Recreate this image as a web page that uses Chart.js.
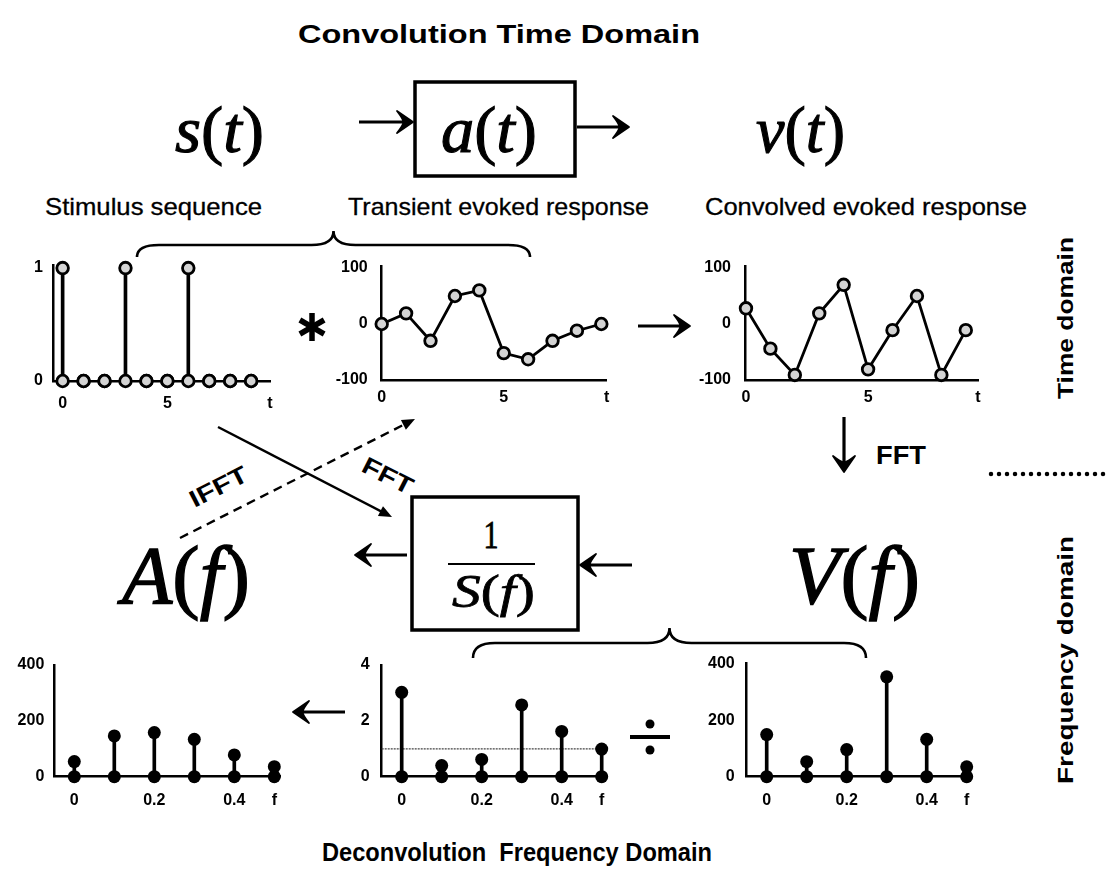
<!DOCTYPE html>
<html>
<head>
<meta charset="utf-8">
<title>Convolution / Deconvolution</title>
<script src="https://cdn.jsdelivr.net/npm/chart.js@4.4.1/dist/chart.umd.min.js"></script>
<style>
  html, body { margin: 0; padding: 0; background: #fff; }
  #wrap { position: relative; width: 1110px; height: 886px; overflow: hidden; background: #fff; }
  #wrap canvas { position: absolute; }
  #ann { position: absolute; left: 0; top: 0; }
</style>
</head>
<body>
<div id="wrap">
  <svg id="ann" width="1110" height="886" xmlns="http://www.w3.org/2000/svg"></svg>
  <canvas id="c-stim"></canvas>
  <canvas id="c-trans"></canvas>
  <canvas id="c-conv"></canvas>
  <canvas id="c-A"></canvas>
  <canvas id="c-S"></canvas>
  <canvas id="c-V"></canvas>
</div>
<script>
// ===== DATA ===== //
const stimTimes = [0, 1, 2, 3, 4, 5, 6, 7, 8, 9];
const stimulus = [1, 0, 0, 1, 0, 0, 1, 0, 0, 0];
const transient = [0, 19, -30, 50, 60, -52, -63, -30, -12, 0];
const convolved = [28, -44, -91, 19, 70, -81, -11, 50, -91, -11];

const freqs = [0, 0.1, 0.2, 0.3, 0.4, 0.5];
const ampA = [54, 146, 158, 134, 78, 36];
const ampS = [3.02, 0.40, 0.62, 2.57, 1.62, 0.99];
const ampV = [149, 53, 96, 353, 132, 35];
const unityLevel = 1;

const timeTickLabels = ['0', '5', 't'];
const freqTickValues = [0, 0.2, 0.4, 0.5];
const freqTickLabels = ['0', '0.2', '0.4', 'f'];
const stimYTicks = [0, 1];
const respYTicks = [-100, 0, 100];
const ampYTicks = [0, 200, 400];
const sYTicks = [0, 2, 4];

// ===== CHART SETUP ===== //
const SANS = '"Liberation Sans", Arial, sans-serif';
const SERIF = '"Liberation Serif", "Times New Roman", serif';
const X_AXIS_H = 30;
Chart.defaults.font.family = SANS;
Chart.defaults.font.size = 16;
Chart.defaults.font.weight = 'bold';
Chart.defaults.color = '#000';

function pairs(xs, ys) {
  return xs.map((x, i) => ({ x: x, y: ys[i] }));
}

const openPoint = {
  pointRadius: 5.8, pointBackgroundColor: '#d4d4d4',
  pointBorderColor: '#000', pointBorderWidth: 2.8
};
const solidPoint = {
  pointRadius: 6.5, pointBackgroundColor: '#000',
  pointBorderColor: '#000', pointBorderWidth: 0
};

function makeChart(id, g, type, datasets) {
  const cv = document.getElementById(id);
  cv.width = g.box.width;
  cv.height = g.box.height;
  cv.style.left = g.box.left + 'px';
  cv.style.top = g.box.top + 'px';
  cv.style.width = g.box.width + 'px';
  cv.style.height = g.box.height + 'px';
  const axisCommon = {
    type: 'linear', offset: false,
    grid: { display: false, drawTicks: false },
    border: { display: true, color: '#000', width: 2.5 }
  };
  return new Chart(cv, {
    type: type,
    data: { datasets: datasets },
    options: {
      responsive: false, animation: false, devicePixelRatio: 1,
      layout: {
        autoPadding: false,
        padding: {
          left: 0,
          top: g.area.y0 - g.box.top,
          right: g.box.left + g.box.width - g.area.x1,
          bottom: g.box.top + g.box.height - g.area.y1 - X_AXIS_H
        }
      },
      plugins: { legend: { display: false }, tooltip: { enabled: false } },
      scales: {
        x: Object.assign({}, axisCommon, {
          min: g.xMin, max: g.xMax,
          afterBuildTicks: a => { a.ticks = g.xTicks.map(v => ({ value: v })); },
          afterFit: a => { a.height = X_AXIS_H; },
          ticks: { autoSkip: false, maxRotation: 0, padding: g.xPad,
                   callback: (v, i) => g.xLabels[i] }
        }),
        y: Object.assign({}, axisCommon, {
          min: g.yMin, max: g.yMax,
          afterBuildTicks: a => { a.ticks = g.yTicks.map(v => ({ value: v })); },
          afterFit: a => { a.width = g.area.x0 - g.box.left; },
          ticks: { autoSkip: false, padding: g.yPad, callback: v => String(v) }
        })
      }
    }
  });
}

function stemSets(xs, ys, point, baseLine) {
  const sets = [
    { type: 'bar', data: pairs(xs, ys), backgroundColor: '#000', barThickness: 3,
      order: 3, clip: false },
    Object.assign({ type: 'line', data: pairs(xs, xs.map(() => 0)), showLine: false,
      order: 2, clip: false }, point),
    Object.assign({ type: 'line', data: pairs(xs, ys), showLine: false,
      order: 1, clip: false }, point)
  ];
  if (baseLine) sets.push(baseLine);
  return sets;
}

function lineSet(xs, ys) {
  return [Object.assign({ type: 'line', data: pairs(xs, ys), borderColor: '#000',
    borderWidth: 2.8, tension: 0, clip: false }, openPoint)];
}

// time domain
makeChart('c-stim', {
  box: { left: 0, top: 240, width: 300, height: 190 },
  area: { x0: 53, x1: 270, y0: 265, y1: 381 },
  xMin: -0.46, xMax: 9.9, yMin: 0, yMax: 1.027,
  xTicks: [0, 5, 9.9], xLabels: timeTickLabels, yTicks: stimYTicks,
  xPad: 13, yPad: 10
}, 'bar', stemSets(stimTimes, stimulus, openPoint));

makeChart('c-trans', {
  box: { left: 320, top: 240, width: 310, height: 190 },
  area: { x0: 381.7, x1: 606.7, y0: 266.7, y1: 380 },
  xMin: 0, xMax: 9.22, yMin: -100, yMax: 102.3,
  xTicks: [0, 5, 9.22], xLabels: timeTickLabels, yTicks: respYTicks,
  xPad: 8, yPad: 14
}, 'line', lineSet(stimTimes, transient));

makeChart('c-conv', {
  box: { left: 680, top: 240, width: 320, height: 190 },
  area: { x0: 745, x1: 978, y0: 266.7, y1: 380 },
  xMin: -0.04, xMax: 9.5, yMin: -100, yMax: 102.3,
  xTicks: [0, 5, 9.5], xLabels: timeTickLabels, yTicks: respYTicks,
  xPad: 8, yPad: 14
}, 'line', lineSet(stimTimes, convolved));

// frequency domain
makeChart('c-A', {
  box: { left: 0, top: 640, width: 300, height: 180 },
  area: { x0: 54.3, x1: 280.3, y0: 665, y1: 776.7 },
  xMin: -0.05, xMax: 0.515, yMin: 0, yMax: 400,
  xTicks: freqTickValues, xLabels: freqTickLabels, yTicks: ampYTicks,
  xPad: 14, yPad: 10
}, 'bar', stemSets(freqs, ampA, solidPoint));

makeChart('c-S', {
  box: { left: 320, top: 640, width: 310, height: 180 },
  area: { x0: 381.7, x1: 607.7, y0: 665, y1: 776.7 },
  xMin: -0.05, xMax: 0.515, yMin: 0, yMax: 4,
  xTicks: freqTickValues, xLabels: freqTickLabels, yTicks: sYTicks,
  xPad: 14, yPad: 12
}, 'bar', stemSets(freqs, ampS, solidPoint, {
  type: 'line', data: [{ x: -0.05, y: unityLevel }, { x: 0.515, y: unityLevel }],
  borderColor: '#444', borderWidth: 1.3, borderDash: [2, 1], pointRadius: 0,
  order: 4, clip: false
}));

makeChart('c-V', {
  box: { left: 690, top: 640, width: 300, height: 180 },
  area: { x0: 746.7, x1: 972.7, y0: 663, y1: 776.7 },
  xMin: -0.05, xMax: 0.515, yMin: 0, yMax: 402,
  xTicks: freqTickValues, xLabels: freqTickLabels, yTicks: ampYTicks,
  xPad: 14, yPad: 12
}, 'bar', stemSets(freqs, ampV, solidPoint));

// ===== ANNOTATIONS (SVG) ===== //
const NS = 'http://www.w3.org/2000/svg';
const svg = document.getElementById('ann');

function el(tag, attrs, parent) {
  const e = document.createElementNS(NS, tag);
  for (const k in attrs) e.setAttribute(k, attrs[k]);
  (parent || svg).appendChild(e);
  return e;
}

// plain text fitted to a width
function label(str, x, y, size, width, opts) {
  opts = opts || {};
  const t = el('text', {
    x: x, y: y, 'font-size': size, 'font-family': opts.serif ? SERIF : SANS,
    'font-weight': opts.bold ? 'bold' : 'normal', fill: '#000',
    textLength: width, lengthAdjust: 'spacingAndGlyphs'
  });
  if (opts.transform) t.setAttribute('transform', opts.transform);
  if (opts.anchor) t.setAttribute('text-anchor', opts.anchor);
  if (opts.stroke) { t.setAttribute('stroke', '#000'); t.setAttribute('stroke-width', opts.stroke); }
  t.textContent = str;
  return t;
}

// math text: parts = [[text, italic], ...]
function mathText(parts, x, y, size, width) {
  const t = el('text', {
    x: x, y: y, 'font-size': size, 'font-family': SERIF, fill: '#000',
    stroke: '#000', 'stroke-width': size / 60,
    textLength: width, lengthAdjust: 'spacingAndGlyphs'
  });
  parts.forEach(p => {
    const s = el('tspan', p[1] ? { 'font-style': 'italic' } : {}, t);
    s.textContent = p[0];
  });
  return t;
}

// arrow like the "→" glyph: shaft and barbed head
function glyphArrow(x1, y1, x2, y2) {
  const ang = Math.atan2(y2 - y1, x2 - x1) * 180 / Math.PI;
  const len = Math.hypot(x2 - x1, y2 - y1);
  const g = el('g', { transform: `translate(${x2},${y2}) rotate(${ang})` });
  el('line', { x1: -len, y1: 0, x2: -6, y2: 0, stroke: '#000', 'stroke-width': 3.2 }, g);
  el('path', { d: 'M0,0 L-16,-11 Q-9,-2 -10,0 Q-9,2 -16,11 Z', fill: '#000',
               stroke: '#000', 'stroke-width': 1.8, 'stroke-linejoin': 'round' }, g);
}

// thin arrow with small filled head
function thinArrow(x1, y1, x2, y2, dashed) {
  const ang = Math.atan2(y2 - y1, x2 - x1) * 180 / Math.PI;
  const len = Math.hypot(x2 - x1, y2 - y1);
  const g = el('g', { transform: `translate(${x2},${y2}) rotate(${ang})` });
  const line = el('line', { x1: -len, y1: 0, x2: -8, y2: 0, stroke: '#000', 'stroke-width': 2.4 }, g);
  if (dashed) line.setAttribute('stroke-dasharray', '9 6');
  el('path', { d: 'M0,0 L-13,-5.5 L-13,5.5 Z', fill: '#000' }, g);
}

function brace(x0, x1, tipY, barY, peakY, r) {
  const m = (x0 + x1) / 2;
  el('path', {
    d: `M${x0},${tipY} Q${x0},${barY} ${x0 + r},${barY} L${m - r},${barY} ` +
       `Q${m},${barY} ${m},${peakY} Q${m},${barY} ${m + r},${barY} ` +
       `L${x1 - r},${barY} Q${x1},${barY} ${x1},${tipY}`,
    fill: 'none', stroke: '#000', 'stroke-width': 2.6
  });
}

// titles
label('Convolution Time Domain', 298, 43, 26, 402, { bold: true });
label('Deconvolution\u00a0 Frequency Domain', 322, 861, 26, 390, { bold: true });

// top row symbols
mathText([['s', true], ['(', false], ['t', true], [')', false]], 175, 152, 66, 89);
mathText([['a', true], ['(', false], ['t', true], [')', false]], 441, 152, 66, 96);
mathText([['v', true], ['(', false], ['t', true], [')', false]], 756, 152, 66, 89);
el('rect', { x: 415, y: 82, width: 160, height: 94, fill: 'none', stroke: '#000', 'stroke-width': 3.5 });
glyphArrow(359, 122, 413, 122);
glyphArrow(577, 127, 629, 127);

label('Stimulus sequence', 45, 215, 24, 217, { stroke: 0.3 });
label('Transient evoked response', 348, 215, 24, 301, { stroke: 0.3 });
label('Convolved evoked response', 705, 215, 24, 322, { stroke: 0.3 });
brace(137, 530, 257, 245, 231, 22);

// operators between time plots
const star = el('g', { transform: 'translate(312,327)', stroke: '#000', 'stroke-width': 5.5, 'stroke-linecap': 'butt' });
[90, 30, 150].forEach(a => {
  const r = a * Math.PI / 180;
  el('line', { x1: -14 * Math.cos(r), y1: -14 * Math.sin(r), x2: 14 * Math.cos(r), y2: 14 * Math.sin(r) }, star);
});
glyphArrow(638, 326, 690, 326);

// side labels
label('Time domain', 0, 0, 22, 162, { bold: true, anchor: 'middle', transform: 'translate(1073,318) rotate(-90)' });
label('Frequency domain', 0, 0, 22, 248, { bold: true, anchor: 'middle', transform: 'translate(1073,660) rotate(-90)' });
el('line', { x1: 991, y1: 474, x2: 1110, y2: 474, stroke: '#000', 'stroke-width': 4.5,
             'stroke-linecap': 'round', 'stroke-dasharray': '0 8' });

// FFT down arrow
glyphArrow(844, 417, 844, 472);
label('FFT', 876, 464, 26, 50, { bold: true });

// crossing FFT / IFFT arrows
thinArrow(218, 427, 392, 517, false);
thinArrow(180, 538, 415, 419, true);
label('FFT', 0, 0, 24, 54, { bold: true, anchor: 'middle', transform: 'translate(384,483) rotate(27)' });
label('IFFT', 0, 0, 24, 62, { bold: true, anchor: 'middle', transform: 'translate(222,494) rotate(-27)' });

// 1/S(f) box
el('rect', { x: 412, y: 497, width: 166, height: 133, fill: 'none', stroke: '#000', 'stroke-width': 3.5 });
label('1', 491, 548, 40, 15, { serif: true, anchor: 'middle', stroke: 0.8 });
el('line', { x1: 448, y1: 564, x2: 535, y2: 564, stroke: '#000', 'stroke-width': 2 });
mathText([['S', true], ['(', false], ['f', true], [')', false]], 452, 607, 46, 83);
glyphArrow(407, 555, 355, 555);
glyphArrow(632, 565, 580, 565);

mathText([['A', true], ['(', false], ['f', true], [')', false]], 122, 603, 82, 128);
mathText([['V', true], ['(', false], ['f', true], [')', false]], 789, 603, 82, 131);
brace(473, 866, 658, 643, 628, 22);

// frequency row operators
glyphArrow(345, 712, 293, 712);
el('line', { x1: 630, y1: 737, x2: 670, y2: 737, stroke: '#000', 'stroke-width': 4 });
el('circle', { cx: 650, cy: 724, r: 4.5, fill: '#000' });
el('circle', { cx: 650, cy: 750, r: 4.5, fill: '#000' });
</script>
</body>
</html>
